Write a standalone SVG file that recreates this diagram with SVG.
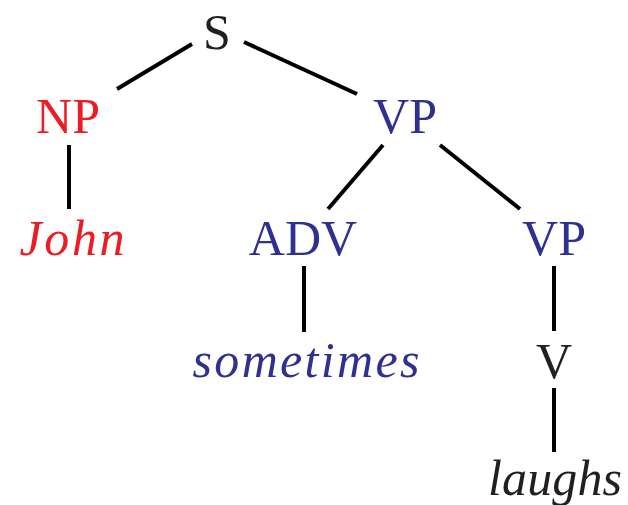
<svg xmlns="http://www.w3.org/2000/svg" width="628" height="505" viewBox="0 0 628 505">
<style>
.t{font-size:50px;text-anchor:middle}
.it{font-style:italic}
.red{fill:#ed1c24}
.blue{fill:#2e3192}
.blk{fill:#231f20}
#edges line{stroke:#000;stroke-width:4;stroke-linecap:butt}
</style>
<rect width="628" height="505" fill="#fff"/>
<g id="edges">
<line x1="117" y1="89" x2="192" y2="44"/>
<line x1="244" y1="42" x2="357" y2="94"/>
<line x1="69" y1="145" x2="69" y2="209"/>
<line x1="383" y1="145" x2="328" y2="209"/>
<line x1="440" y1="145" x2="520" y2="209"/>
<line x1="304" y1="266" x2="304" y2="332"/>
<line x1="554" y1="266" x2="554" y2="331"/>
<line x1="554" y1="388" x2="554" y2="452"/>
</g>
<g font-family="Liberation Serif, Times New Roman, serif">
<g id="S"><text class="t blk" x="217" y="49">S</text></g>
<g id="NP"><text class="t red" x="68" y="133">NP</text></g>
<g id="John"><text class="t red it" x="72" y="255" textLength="105" lengthAdjust="spacing">John</text></g>
<g id="VP1"><text class="t blue" x="405" y="133">VP</text></g>
<g id="ADV"><text class="t blue" x="303" y="255">ADV</text></g>
<g id="VP2"><text class="t blue" x="554" y="255">VP</text></g>
<g id="sometimes"><text class="t blue it" x="306" y="377" textLength="227" lengthAdjust="spacing">sometimes</text></g>
<g id="V"><text class="t blk" x="554" y="378">V</text></g>
<g id="laughs"><text class="t blk it" x="555" y="495" textLength="134" lengthAdjust="spacing">laughs</text></g>
</g>
</svg>
